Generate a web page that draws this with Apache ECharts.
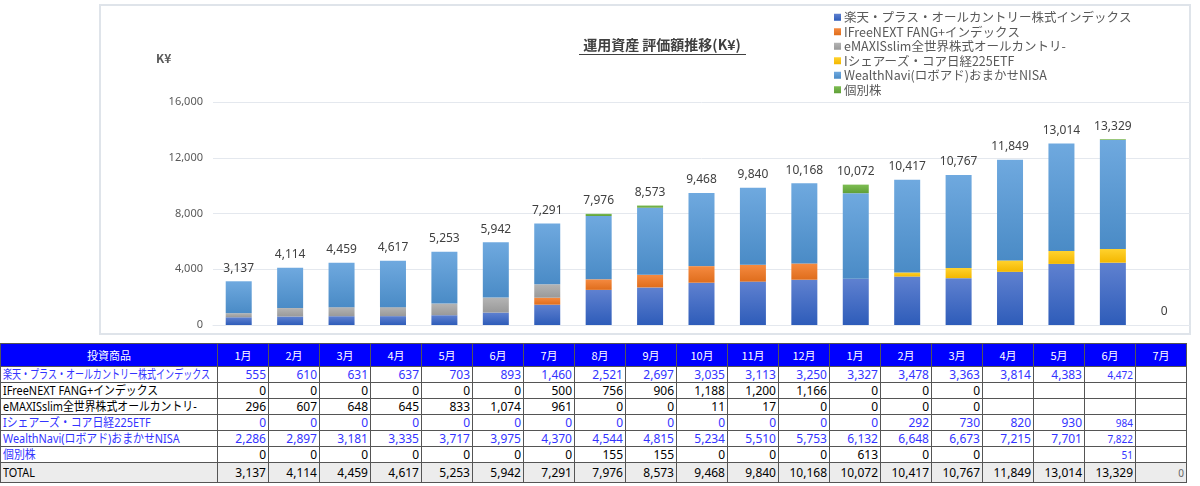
<!DOCTYPE html>
<html>
<head>
<meta charset="utf-8">
<script src="https://cdn.jsdelivr.net/npm/echarts@6/dist/echarts.min.js"></script>
<style>
  body { margin: 0; background: #fff; }
  #chart { position: absolute; left: 0; top: 0; width: 1200px; height: 340px; }
  #tbl {
    position: absolute; left: 0; top: 343px; width: 1187px;
    border-collapse: collapse; table-layout: fixed;
    font-family: "Noto Sans", "Noto Sans CJK JP", sans-serif; font-size: 12px; color: #000;
  }
  #tbl td, #tbl th { border: 1px solid #555; padding: 0 2px; white-space: nowrap; overflow: hidden; line-height: 14px; }
  #tbl th { background: #0000ff; color: #fff; font-weight: normal; height: 22px; text-align: center; font-family: "Noto Sans CJK JP", sans-serif; font-size: 11px; }
  #tbl td { height: 15px; text-align: right; }
  #tbl td.nm { text-align: left; }
  #tbl td.nm span { display: inline-block; transform-origin: left center; font-family: "Noto Sans", "Noto Sans CJK JP", sans-serif; font-size: 12.5px; }
  #tbl tr.total td { background: #ececec; height: 19px; }
  .blue { color: #3333ff; }
  .small { font-size: 10px; }
  .gray { color: #666; }
</style>
</head>
<body>
<div id="chart"></div>
<table id="tbl"></table>
<script>
// months on the x axis / table header
const months = ['1月','2月','3月','4月','5月','6月','7月','8月','9月','10月','11月','12月',
                '1月','2月','3月','4月','5月','6月','7月'];

const names = [
  '楽天・プラス・オールカントリー株式インデックス',
  'IFreeNEXT FANG+インデックス',
  'eMAXISslim全世界株式オールカントリ-',
  'Iシェアーズ・コア日経225ETF',
  'WealthNavi(ロボアド)おまかせNISA',
  '個別株'
];

// values in K¥ (null = blank cell)
const rakuten = [555,610,631,637,703,893,1460,2521,2697,3035,3113,3250,3327,3478,3363,3814,4383,4472,null];
const ifree   = [0,0,0,0,0,0,500,756,906,1188,1200,1166,0,0,0,null,null,null,null];
const emaxis  = [296,607,648,645,833,1074,961,0,0,11,17,0,0,0,0,null,null,null,null];
const ishares = [0,0,0,0,0,0,0,0,0,0,0,0,0,292,730,820,930,984,null];
const wealth  = [2286,2897,3181,3335,3717,3975,4370,4544,4815,5234,5510,5753,6132,6648,6673,7215,7701,7822,null];
const kobetsu = [0,0,0,0,0,0,0,155,155,0,0,0,613,0,0,null,null,51,null];
const totals  = [3137,4114,4459,4617,5253,5942,7291,7976,8573,9468,9840,10168,10072,10417,10767,11849,13014,13329,0];

const yTicks = [0, 4000, 8000, 12000, 16000];

const fmt = v => (v === null || v === undefined) ? '' : v.toLocaleString('en-US');
const grad = (a, b) => new echarts.graphic.LinearGradient(0, 0, 0, 1, [{offset: 0, color: a}, {offset: 1, color: b}]);

const colors = [
  grad('#5f81d0', '#2e5cb9'),
  grad('#f58a40', '#df6d1c'),
  grad('#b4b4b4', '#999999'),
  grad('#ffd22e', '#f3b700'),
  grad('#6fa9df', '#4a8bc6'),
  grad('#7dbd52', '#5f9f38')
];
const legendColors = ['#4472c4', '#ed7d31', '#a5a5a5', '#ffc000', '#5b9bd5', '#70ad47'];
const seriesData = [rakuten, ifree, emaxis, ishares, wealth, kobetsu];

const chart = echarts.init(document.getElementById('chart'));

const series = seriesData.map((d, i) => ({
  name: names[i],
  type: 'bar',
  stack: 'total',
  data: d,
  barWidth: 26,
  barGap: '-100%',
  itemStyle: { color: colors[i] },
  color: legendColors[i]
}));
series.push({
  name: 'TOTAL',
  type: 'bar',
  data: totals,
  barWidth: 26,
  barGap: '-100%',
  z: 1,
  itemStyle: { color: 'rgba(0,0,0,0)' },
  label: {
    show: true, position: 'top', distance: 7,
    color: '#404040', fontSize: 12, fontFamily: 'Noto Sans',
    formatter: p => fmt(p.value)
  },
  silent: true
});

chart.setOption({
  animation: false,
  graphic: [
    { type: 'rect', shape: { x: 100, y: 5, width: 1090, height: 329 },
      style: { fill: 'none', stroke: '#dfe4ea', lineWidth: 2 }, silent: true },
    { type: 'text', x: 662, y: 45,
      style: { text: '運用資産 評価額推移(K¥)', textAlign: 'center', textVerticalAlign: 'middle',
               font: 'bold 14px "Noto Sans CJK JP"', fill: '#404040' } },
    { type: 'line', shape: { x1: 579, y1: 54.5, x2: 746, y2: 54.5 },
      style: { stroke: '#404040', lineWidth: 1 } }
  ],
  legend: {
    orient: 'vertical', left: 829, top: 6,
    itemWidth: 7, itemHeight: 7, itemGap: 2,
    icon: 'rect',
    data: names,
    textStyle: { color: '#595959', fontSize: 12.5, fontFamily: 'Noto Sans CJK JP', padding: [0, 0, 0, -2] }
  },
  grid: { left: 213, top: 102, width: 977, height: 223 },
  xAxis: {
    type: 'category', data: months,
    axisLabel: { show: false }, axisTick: { show: false },
    axisLine: { lineStyle: { color: '#e4e8ee' } }
  },
  yAxis: {
    type: 'value', min: yTicks[0], max: yTicks[yTicks.length - 1], interval: 4000,
    name: 'K¥', nameLocation: 'end', nameGap: 38,
    nameTextStyle: { color: '#595959', fontSize: 12, fontWeight: 'bold', fontFamily: 'Noto Sans CJK JP', align: 'left', padding: [0, 0, 0, -57] },
    axisLabel: { color: '#595959', fontSize: 11, fontFamily: 'Noto Sans', margin: 10, formatter: v => fmt(v) },
    splitLine: { lineStyle: { color: '#e4e8ee' } },
    axisLine: { show: false }, axisTick: { show: false }
  },
  series: series
});

// data table under the chart
const nameBlue = [true, false, false, true, true, true];
const valBlue  = [true, false, false, true, true, false];
const tbl = document.getElementById('tbl');
let html = '<colgroup><col style="width:217px">' + months.map(() => '<col>').join('') + '</colgroup>';
html += '<tr><th>投資商品</th>' + months.map(m => '<th>' + m + '</th>').join('') + '</tr>';
seriesData.forEach((d, i) => {
  html += '<tr><td class="nm' + (nameBlue[i] ? ' blue' : '') + '"><span>' + names[i] + '</span></td>';
  d.forEach((v, j) => {
    const cls = [];
    if (valBlue[i] || j === 17) cls.push('blue');
    if (j === 17) cls.push('small');
    html += '<td class="' + cls.join(' ') + '">' + fmt(v) + '</td>';
  });
  html += '</tr>';
});
html += '<tr class="total"><td class="nm"><span>TOTAL</span></td>' +
  totals.map((v, j) => '<td class="' + (j === 18 ? 'small gray' : '') + '">' + fmt(v) + '</td>').join('') + '</tr>';
tbl.innerHTML = html;

// squeeze the long fund names so they fit in the first column
document.querySelectorAll('#tbl td.nm span').forEach(s => {
  const w = s.getBoundingClientRect().width;
  const k = Math.min(0.87, 207 / w);
  s.style.transform = 'scaleX(' + k + ')';
});
</script>
</body>
</html>
